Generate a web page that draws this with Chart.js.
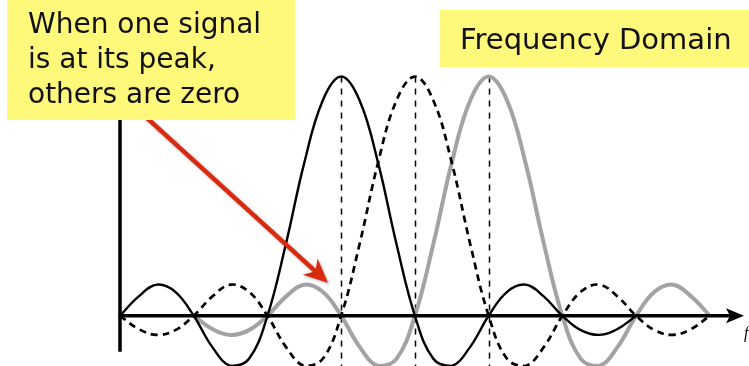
<!DOCTYPE html>
<html>
<head>
<meta charset="utf-8">
<script src="https://cdn.jsdelivr.net/npm/chart.js@4.4.0/dist/chart.umd.min.js"></script>
<style>
    body { margin: 0; background: #fff; }
    #wrap { width: 749px; height: 366px; }
</style>
</head>
<body>
<div id="wrap"><canvas id="myChart" width="749" height="366"></canvas></div>
<script>
// frequency axis, in subcarrier spacings
const freq = [0, 0.25, 0.5, 0.75, 1, 1.25, 1.5, 1.75, 2, 2.25, 2.5, 2.75, 3, 3.25, 3.5, 3.75,
    4, 4.25, 4.5, 4.75, 5, 5.25, 5.5, 5.75, 6, 6.25, 6.5, 6.75, 7, 7.25, 7.5, 7.75, 8];

// amplitudes (peak = 1)
const carrierA = [0, 0.08, 0.13, 0.1, 0, -0.13, -0.21, -0.18, 0, 0.3, 0.64, 0.9, 1, 0.9, 0.64, 0.3,
    0, -0.18, -0.21, -0.13, 0, 0.1, 0.13, 0.08, 0, -0.06, -0.08, -0.055, 0, null, null, null, null];
const carrierB = [0, -0.055, -0.08, -0.06, 0, 0.08, 0.13, 0.1, 0, -0.13, -0.21, -0.18, 0, 0.3, 0.64, 0.9,
    1, 0.9, 0.64, 0.3, 0, -0.18, -0.21, -0.13, 0, 0.1, 0.13, 0.08, 0, -0.06, -0.08, -0.055, 0];
const carrierC = [null, null, null, null, 0, -0.055, -0.08, -0.06, 0, 0.08, 0.13, 0.1, 0, -0.13, -0.21, -0.18,
    0, 0.3, 0.64, 0.9, 1, 0.9, 0.64, 0.3, 0, -0.18, -0.21, -0.13, 0, 0.1, 0.13, 0.08, 0];

const peaks = [3, 4, 5];
const noteLines = ['When one signal', 'is at its peak,', 'others are zero'];
const domainLabel = 'Frequency Domain';
const axisLabel = 'f';

function toPoints(values) {
    return freq.map(function (f, i) { return { x: f, y: values[i] }; });
}

const yellow = '#fff97b';

const decor = {
    id: 'decor',
    beforeDatasetsDraw(chart) {
        const ctx = chart.ctx;
        const xs = chart.scales.x;
        const ys = chart.scales.y;
        ctx.save();
        // dashed markers under each peak
        ctx.strokeStyle = '#000';
        ctx.lineWidth = 1.5;
        ctx.setLineDash([6, 6]);
        peaks.forEach(function (p) {
            const px = Math.round(xs.getPixelForValue(p)) + 0.5;
            ctx.beginPath();
            ctx.moveTo(px, ys.getPixelForValue(1));
            ctx.lineTo(px, chart.height);
            ctx.stroke();
        });
        ctx.restore();
    },
    afterDatasetsDraw(chart) {
        const ctx = chart.ctx;
        const xs = chart.scales.x;
        const ys = chart.scales.y;
        const x0 = xs.getPixelForValue(0);
        const y0 = ys.getPixelForValue(0);
        const tipX = chart.chartArea.right + 1;
        ctx.save();

        // axes
        ctx.strokeStyle = '#000';
        ctx.fillStyle = '#000';
        ctx.lineWidth = 3.5;
        ctx.beginPath();
        ctx.moveTo(x0, 0);
        ctx.lineTo(x0, ys.getPixelForValue(-0.15));
        ctx.stroke();
        ctx.beginPath();
        ctx.moveTo(x0 - 1.5, y0);
        ctx.lineTo(tipX - 14, y0);
        ctx.stroke();
        ctx.beginPath();
        ctx.moveTo(tipX, y0);
        ctx.lineTo(tipX - 18, y0 - 7.5);
        ctx.lineTo(tipX - 14, y0);
        ctx.lineTo(tipX - 18, y0 + 7.5);
        ctx.closePath();
        ctx.fill();
        ctx.font = 'italic 16px "Liberation Serif"';
        ctx.fillText(axisLabel, tipX, y0 + 22);

        // red pointer
        const ax = xs.getPixelForValue(0.3), ay = ys.getPixelForValue(0.845);
        const bx = xs.getPixelForValue(2.82), by = ys.getPixelForValue(0.138);
        const ang = Math.atan2(by - ay, bx - ax);
        ctx.shadowColor = 'rgba(0,0,0,0.3)';
        ctx.shadowBlur = 3;
        ctx.shadowOffsetX = 1.5;
        ctx.shadowOffsetY = 1.5;
        ctx.strokeStyle = '#d9290f';
        ctx.fillStyle = '#d9290f';
        ctx.lineWidth = 4.5;
        ctx.beginPath();
        ctx.moveTo(ax, ay);
        ctx.lineTo(bx - 12 * Math.cos(ang), by - 12 * Math.sin(ang));
        ctx.stroke();
        ctx.translate(bx, by);
        ctx.rotate(ang);
        ctx.beginPath();
        ctx.moveTo(0, 0);
        ctx.lineTo(-24, -11);
        ctx.lineTo(-17, 0);
        ctx.lineTo(-24, 11);
        ctx.closePath();
        ctx.fill();
        ctx.restore();

        // yellow call-outs
        ctx.save();
        ctx.fillStyle = yellow;
        ctx.fillRect(7, 0, 288, 120);
        ctx.fillRect(440, 10, 309, 57);
        ctx.fillStyle = '#111';
        ctx.textBaseline = 'alphabetic';
        ctx.font = '28px "DejaVu Sans"';
        noteLines.forEach(function (t, i) {
            ctx.fillText(t, 28, 33 + i * 35);
        });
        ctx.font = '29px "DejaVu Sans"';
        ctx.fillText(domainLabel, 460, 49);
        ctx.restore();
    }
};

const ctx = document.getElementById('myChart');

const myChart = new Chart(ctx, {
    type: 'line',
    data: {
        datasets: [{
            label: 'carrier A',
            data: toPoints(carrierA),
            borderColor: '#000',
            borderWidth: 2.4
        }, {
            label: 'carrier B',
            data: toPoints(carrierB),
            borderColor: '#000',
            borderWidth: 2.7,
            borderDash: [7, 5]
        }, {
            label: 'carrier C',
            data: toPoints(carrierC),
            borderColor: '#a3a3a3',
            borderWidth: 4
        }]
    },
    options: {
        responsive: false,
        animation: false,
        devicePixelRatio: 1,
        spanGaps: false,
        layout: { padding: { left: 120, right: 6, top: 0, bottom: 0 } },
        elements: {
            point: { radius: 0, hoverRadius: 0 },
            line: { tension: 0.4, fill: false }
        },
        plugins: {
            legend: { display: false },
            tooltip: { enabled: false }
        },
        scales: {
            x: { type: 'linear', min: 0, max: 8.45, display: false },
            y: { min: -0.21, max: 1.32, display: false }
        }
    },
    plugins: [decor]
});
</script>
</body>
</html>
